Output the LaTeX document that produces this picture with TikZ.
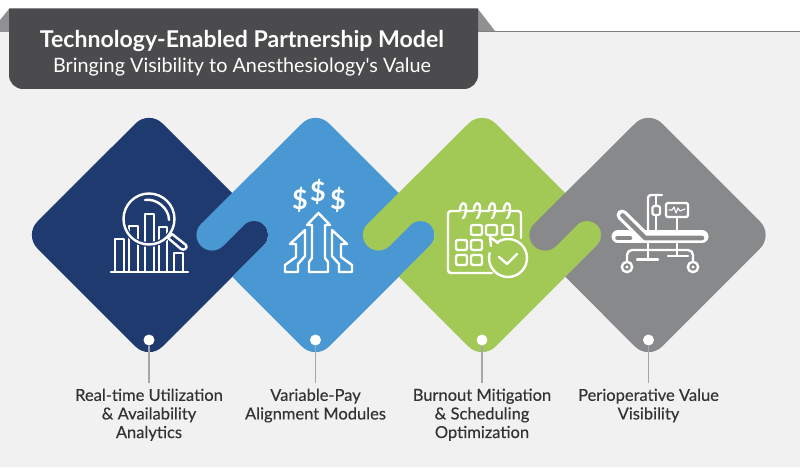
\documentclass[tikz,border=0pt]{standalone}
\usepackage{fontspec}
\setmainfont{Lato}
\newfontfamily\plainlato{Lato}
\definecolor{cNavy}{HTML}{1F3A6E}
\definecolor{cBlue}{HTML}{4A98D3}
\definecolor{cGreen}{HTML}{A2C955}
\definecolor{cGray}{HTML}{88898B}
\definecolor{cBg}{HTML}{F1F1F2}
\definecolor{cHead}{HTML}{4B4B4D}
\definecolor{cFold}{HTML}{8F9091}
\definecolor{cTxt}{HTML}{333335}
\def\topcap{-- (-13.43,111.57) arc[start angle=135,end angle=45,radius=19]}
\def\botcap{-- (13.43,-111.57) arc[start angle=-45,end angle=-135,radius=19]}
\def\righttab{-- (115,10) arc[start angle=45,end angle=-45,radius=14.14]}
\def\leftjoin{(-83.25,-41.75) -- (-51.5,-10) arc[start angle=-45,end angle=135,radius=14.14] -- (-92.5,-11) arc[start angle=-45,end angle=-225,radius=15.56]}
\tikzset{
  iconl/.style={draw=white,line width=2.4pt,line cap=round,line join=round},
  thin icon/.style={draw=white,line width=1.1pt,line cap=round,line join=round},
  dotn/.style={circle,fill=white,inner sep=0pt,minimum size=11pt},
  stem/.style={draw=black!35,line width=1.4pt},
  lab/.style={anchor=north,align=center,text=cTxt,inner xsep=0pt,inner ysep=5.5pt,font=\fontsize{16.5}{18.6}\selectfont\addfontfeatures{FakeBold=0.3}},
  dollar/.style={text=white,font=\fontsize{27}{27}\selectfont\bfseries},
}
\begin{document}
\begin{tikzpicture}[x=1pt,y=1pt]
\useasboundingbox (0,0) rectangle (800,467);
\fill[white] (0,0) rectangle (800,467);
\fill[cBg] (0,0) rectangle (800,435.5);
\draw[black!50,line width=0.8pt] (0,435.5) -- (800,435.5);
% header
\fill[cFold] (0,447) -- (9,458) -- (9,435) -- (0,435) -- cycle;
\fill[cFold] (478,458) -- (495,436) -- (478,436) -- cycle;
\fill[cHead,rounded corners=14pt] (9,458.5) [sharp corners] -- (478,458.5) [rounded corners=14pt] -- (478,378) -- (9,378) [sharp corners] -- cycle;
\node[text=white,font=\fontsize{23.1}{26}\selectfont\bfseries] (title) at (242,425.5) {Technology-Enabled Partnership Model};
\node[text=white,font=\fontsize{19.8}{23}\selectfont\plainlato] (subtitle) at (242,399.5) {Bringing Visibility to Anesthesiology's Value};
% tiles
\begin{scope}[shift={(149,232)}]
\fill[cNavy] (-111.57,-13.43) arc[start angle=225,end angle=135,radius=19] \topcap \righttab \botcap -- cycle;
\end{scope}
\begin{scope}[shift={(315.5,232)}]
\fill[cBlue] \leftjoin \topcap \righttab \botcap -- cycle;
\end{scope}
\begin{scope}[shift={(482,232)}]
\fill[cGreen] \leftjoin \topcap \righttab \botcap -- cycle;
\end{scope}
\begin{scope}[shift={(648.5,232)}]
\fill[cGray] \leftjoin \topcap -- (111.57,13.43) arc[start angle=45,end angle=-45,radius=19] \botcap -- cycle;
\end{scope}
% labels, dots, stems
\node[dotn] (d1) at (149,127) {};
\node[dotn] (d2) at (315.5,127) {};
\node[dotn] (d3) at (482,127) {};
\node[dotn] (d4) at (648.5,127) {};
\node[lab] (l1) at (149,84) {Real-time Utilization\\\& Availability\\Analytics};
\node[lab] (l2) at (315.5,84) {Variable-Pay\\Alignment Modules};
\node[lab] (l3) at (482,84) {Burnout Mitigation\\\& Scheduling\\Optimization};
\node[lab] (l4) at (648.5,84) {Perioperative Value\\Visibility};
\draw[stem] (d1) -- (l1);
\draw[stem] (d2) -- (l2);
\draw[stem] (d3) -- (l3);
\draw[stem] (d4) -- (l4);
% icons in pixel coordinates (y downward)
\begin{scope}[shift={(0,467)},y=-1pt]
% icon 1
\draw[iconl] (111,272) -- (188,272);
\draw[iconl] (115,272) -- (115,239) -- (124,239) -- (124,272);
\draw[iconl] (129,272) -- (129,226) -- (138,226) -- (138,272);
\draw[iconl] (145,272) -- (145,214) -- (154,214) -- (154,272);
\draw[iconl] (159,272) -- (159,227) -- (167,227) -- (167,272);
\draw[iconl] (174,272) -- (174,253) -- (183,253) -- (183,272);
\draw[draw=cNavy,line width=5pt] (149,219) circle[radius=25.5];
\draw[iconl] (149,219) circle[radius=25.5];
\draw[iconl,fill=cNavy] (168,238) -- (172,234) -- (186,245) .. controls (188,248) and (184,251) .. (181,249) -- cycle;
\draw[iconl] (145,200) .. controls (156,198) and (169,208) .. (169,220);
% icon 2
\node[dollar] (dA) at (300,200) {\$};
\node[dollar] (dB) at (318,192) {\$};
\node[dollar] (dC) at (338,200) {\$};
\draw[iconl] (305,230) -- (290,244) -- (296,244) -- (296,257) -- (285,265) -- (285,272) -- (298,272) -- (298,264) -- (305,256) -- cycle;
\draw[iconl] (332,230) -- (347,244) -- (341,244) -- (341,257) -- (352,265) -- (352,272) -- (339,272) -- (339,264) -- (332,256) -- cycle;
\draw[iconl] (318.5,213) -- (330,225) -- (325,225) -- (325,258) -- (328,262) -- (328,272) -- (309,272) -- (309,262) -- (312,258) -- (312,225) -- (307,225) -- cycle;
% icon 3
\draw[iconl,rounded corners=3pt] (521,238) -- (521,211) -- (448,211) -- (448,273) -- (492,273);
\foreach \x in {463,477,492,507}{
  \draw[draw=cGreen,line width=1pt] (\x-4,211) -- (\x+4,211);
  \draw[iconl,fill=none] (\x-3,211) .. controls (\x-3,201) and (\x+3,201) .. (\x+3,208) .. controls (\x+3,214) and (\x+1,218) .. (\x,218);
}
\foreach \x/\y in {471/225,486/225,502/225,456/240,471/240,456/255,471/255}{
  \draw[iconl,rounded corners=2pt] (\x,\y) rectangle (\x+11,\y+10);
}
\draw[iconl] (499,257) -- (507,264) -- (517,254);
\draw[iconl] (491,246) -- (490,237) -- (498,243);
% icon 4
\draw[white,line width=13pt,line cap=round] (618,236.5) -- (702,236.5);
\draw[white,line width=11pt,line cap=round,line join=round] (622,215) -- (644,236.5) -- (702,236.5);
\draw[cGray,line width=4.6pt,line cap=round,line join=round] (622.5,215.5) -- (645,238) -- (702,238);
\draw[cGray,line width=4.6pt,line cap=round] (617.5,238) -- (630,238);
\draw[iconl,rounded corners=3pt] (648,230) -- (648,195) -- (662,195);
\draw[iconl] (656,196) -- (656,206);
\draw[thin icon] (656,215) -- (656,230);
\draw[iconl,rounded corners=1.5pt] (652.5,206) rectangle (660,215);
\draw[iconl,rounded corners=1.5pt] (666,203) rectangle (688,217);
\draw[thin icon] (669,210) -- (672,210) -- (674,207) -- (676,213) -- (678,208) -- (680,211) -- (685,209);
\draw[iconl] (677,217) -- (677,230);
\draw[iconl] (648,243) -- (648,259);
\draw[iconl] (677,243) -- (677,255);
\draw[iconl,rounded corners=5pt] (627,262) -- (627,250) -- (693,250) -- (693,262);
\draw[iconl] (637,259.5) -- (658,259.5);
\draw[iconl] (668,256) -- (688,256);
\draw[iconl] (627,267) circle[radius=5.2];
\draw[iconl] (693,267) circle[radius=5.2];
\fill[white] (627,267) circle[radius=1.6];
\fill[white] (693,267) circle[radius=1.6];
\end{scope}
% calendar circle with arrow (y up)
\draw[iconl] (508,209) ++(125:19) arc[start angle=125,end angle=-195,radius=19];
\end{tikzpicture}
\end{document}
